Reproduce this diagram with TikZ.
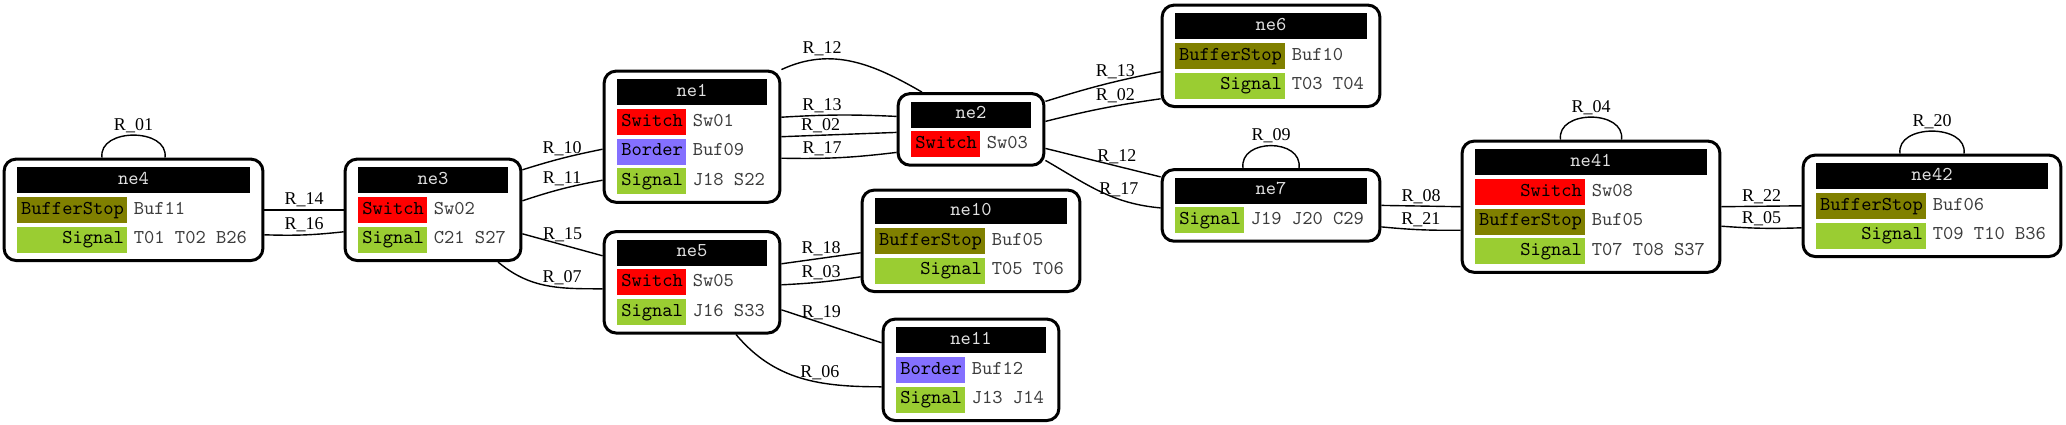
\documentclass[tikz,border=0pt]{standalone}
\usepackage{fontspec}
\setmainfont{Liberation Serif}
\usetikzlibrary{positioning,fit}
\definecolor{swred}{RGB}{255,0,0}
\definecolor{bdblue}{RGB}{132,112,255}
\definecolor{bsolive}{RGB}{128,128,0}
\definecolor{sggreen}{RGB}{154,205,50}
\definecolor{hdtext}{RGB}{225,225,225}
\definecolor{vltext}{RGB}{60,60,60}
\tikzset{
  cellfont/.style={font=\ttfamily\fontsize{9.8}{11}\selectfont, text height=5.8pt, text depth=1.6pt},
  elem/.style={draw, line width=1.5pt, rounded corners=6pt, inner xsep=6.25pt, inner ysep=3.75pt},
  head/.style={cellfont, fill=black, text=hdtext, minimum width=#1, minimum height=13pt, inner sep=0pt},
  kwide/.style={cellfont, fill=#1, text width=52pt, align=right, inner xsep=1.5pt, inner ysep=0pt, minimum height=13pt},
  knarrow/.style={cellfont, fill=#1, text width=31.5pt, align=right, inner xsep=1.5pt, inner ysep=0pt, minimum height=13pt},
  val/.style={cellfont, text=vltext, inner sep=0pt, minimum height=13pt},
  wire/.style={line width=0.7pt},
  rlbl/.style={font=\fontsize{9}{10}\selectfont, inner sep=1pt}
}
\begin{document}
\begin{tikzpicture}[x=0.5pt,y=-0.5pt]
\useasboundingbox (0,0) rectangle (2066,424);
% ne4
\node[head=116.5pt] (ne4h) at (133.5,180) {ne4};
\node[kwide=bsolive, below=1.5pt of ne4h.south west, anchor=north west] (ne4k1) {BufferStop};
\node[val, right=3pt of ne4k1] (ne4v1) {Buf11};
\node[kwide=sggreen, below=1.5pt of ne4k1.south west, anchor=north west] (ne4k2) {Signal};
\node[val, right=3pt of ne4k2] (ne4v2) {T01 T02 B26};
\node[elem, fit=(ne4h)(ne4k2)] (ne4) {};
% ne3
\node[head=75pt] (ne3h) at (433,180) {ne3};
\node[knarrow=swred, below=1.5pt of ne3h.south west, anchor=north west] (ne3k1) {Switch};
\node[val, right=3pt of ne3k1] (ne3v1) {Sw02};
\node[knarrow=sggreen, below=1.5pt of ne3k1.south west, anchor=north west] (ne3k2) {Signal};
\node[val, right=3pt of ne3k2] (ne3v2) {C21 S27};
\node[elem, fit=(ne3h)(ne3k2)] (ne3) {};
% ne1
\node[head=75pt] (ne1h) at (692,92) {ne1};
\node[knarrow=swred, below=1.5pt of ne1h.south west, anchor=north west] (ne1k1) {Switch};
\node[val, right=3pt of ne1k1] (ne1v1) {Sw01};
\node[knarrow=bdblue, below=1.5pt of ne1k1.south west, anchor=north west] (ne1k2) {Border};
\node[val, right=3pt of ne1k2] (ne1v2) {Buf09};
\node[knarrow=sggreen, below=1.5pt of ne1k2.south west, anchor=north west] (ne1k3) {Signal};
\node[val, right=3pt of ne1k3] (ne1v3) {J18 S22};
\node[elem, fit=(ne1h)(ne1k3)] (ne1) {};
% ne5
\node[head=75pt] (ne5h) at (692,252.5) {ne5};
\node[knarrow=swred, below=1.5pt of ne5h.south west, anchor=north west] (ne5k1) {Switch};
\node[val, right=3pt of ne5k1] (ne5v1) {Sw05};
\node[knarrow=sggreen, below=1.5pt of ne5k1.south west, anchor=north west] (ne5k2) {Signal};
\node[val, right=3pt of ne5k2] (ne5v2) {J16 S33};
\node[elem, fit=(ne5h)(ne5k2)] (ne5) {};
% ne2
\node[head=60pt] (ne2h) at (971,114.5) {ne2};
\node[knarrow=swred, below=1.5pt of ne2h.south west, anchor=north west] (ne2k1) {Switch};
\node[val, right=3pt of ne2k1] (ne2v1) {Sw03};
\node[elem, fit=(ne2h)(ne2k1)] (ne2) {};
% ne10
\node[head=96pt] (ne10h) at (971,211) {ne10};
\node[kwide=bsolive, below=1.5pt of ne10h.south west, anchor=north west] (ne10k1) {BufferStop};
\node[val, right=3pt of ne10k1] (ne10v1) {Buf05};
\node[kwide=sggreen, below=1.5pt of ne10k1.south west, anchor=north west] (ne10k2) {Signal};
\node[val, right=3pt of ne10k2] (ne10v2) {T05 T06};
\node[elem, fit=(ne10h)(ne10k2)] (ne10) {};
% ne11
\node[head=75pt] (ne11h) at (971,340) {ne11};
\node[knarrow=bdblue, below=1.5pt of ne11h.south west, anchor=north west] (ne11k1) {Border};
\node[val, right=3pt of ne11k1] (ne11v1) {Buf12};
\node[knarrow=sggreen, below=1.5pt of ne11k1.south west, anchor=north west] (ne11k2) {Signal};
\node[val, right=3pt of ne11k2] (ne11v2) {J13 J14};
\node[elem, fit=(ne11h)(ne11k2)] (ne11) {};
% ne6
\node[head=96pt] (ne6h) at (1271,26) {ne6};
\node[kwide=bsolive, below=1.5pt of ne6h.south west, anchor=north west] (ne6k1) {BufferStop};
\node[val, right=3pt of ne6k1] (ne6v1) {Buf10};
\node[kwide=sggreen, below=1.5pt of ne6k1.south west, anchor=north west] (ne6k2) {Signal};
\node[val, right=3pt of ne6k2] (ne6v2) {T03 T04};
\node[elem, fit=(ne6h)(ne6k2)] (ne6) {};
% ne7
\node[head=96pt] (ne7h) at (1271,190.5) {ne7};
\node[knarrow=sggreen, below=1.5pt of ne7h.south west, anchor=north west] (ne7k1) {Signal};
\node[val, right=3pt of ne7k1] (ne7v1) {J19 J20 C29};
\node[elem, fit=(ne7h)(ne7k1)] (ne7) {};
% ne41
\node[head=116pt] (ne41h) at (1591,162) {ne41};
\node[kwide=swred, below=1.5pt of ne41h.south west, anchor=north west] (ne41k1) {Switch};
\node[val, right=3pt of ne41k1] (ne41v1) {Sw08};
\node[kwide=bsolive, below=1.5pt of ne41k1.south west, anchor=north west] (ne41k2) {BufferStop};
\node[val, right=3pt of ne41k2] (ne41v2) {Buf05};
\node[kwide=sggreen, below=1.5pt of ne41k2.south west, anchor=north west] (ne41k3) {Signal};
\node[val, right=3pt of ne41k3] (ne41v3) {T07 T08 S37};
\node[elem, fit=(ne41h)(ne41k3)] (ne41) {};
% ne42
\node[head=116pt] (ne42h) at (1932,176) {ne42};
\node[kwide=bsolive, below=1.5pt of ne42h.south west, anchor=north west] (ne42k1) {BufferStop};
\node[val, right=3pt of ne42k1] (ne42v1) {Buf06};
\node[kwide=sggreen, below=1.5pt of ne42k1.south west, anchor=north west] (ne42k2) {Signal};
\node[val, right=3pt of ne42k2] (ne42v2) {T09 T10 B36};
\node[elem, fit=(ne42h)(ne42k2)] (ne42) {};
% self loops
\draw[wire] ([xshift=-15.75pt]ne4.north) .. controls +(-2pt,15pt) and +(2pt,15pt) .. node[rlbl, above] (l01) {R\_01} ([xshift=15.75pt]ne4.north);
\draw[wire] ([xshift=-14pt]ne7.north) .. controls +(-2pt,15pt) and +(2pt,15pt) .. node[rlbl, above] (l09) {R\_09} ([xshift=14pt]ne7.north);
\draw[wire] ([xshift=-15.25pt]ne41.north) .. controls +(-2pt,15pt) and +(2pt,15pt) .. node[rlbl, above] (l04) {R\_04} ([xshift=15.25pt]ne41.north);
\draw[wire] ([xshift=-16pt]ne42.north) .. controls +(-2pt,15pt) and +(2pt,15pt) .. node[rlbl, above] (l20) {R\_20} ([xshift=16pt]ne42.north);
% ne4 - ne3
\draw[wire] (ne4.east) -- node[rlbl, above] (l14) {R\_14} (ne3.west);
\draw[wire] ([yshift=-12.5pt]ne4.east) to[bend right=4] node[rlbl, above] (l16) {R\_16} ([yshift=-11pt]ne3.west);
% ne3 - ne1, ne5
\draw[wire] ([yshift=20pt]ne3.east) to[bend left=3] node[rlbl, above] (l10) {R\_10} ([yshift=-6.25pt]ne1.west);
\draw[wire] ([yshift=4.5pt]ne3.east) to[bend left=4] node[rlbl, above] (l11) {R\_11} ([yshift=-21.75pt]ne1.west);
\draw[wire] ([yshift=-12pt]ne3.east) -- node[rlbl, above] (l15) {R\_15} ([yshift=13.25pt]ne5.west);
\draw[wire] ([xshift=32.5pt]ne3.south) to[out=-40, in=180] node[rlbl, above, pos=0.65] (l07) {R\_07} ([yshift=-3.25pt]ne5.west);
% ne1 - ne2
\draw[wire] (ne1.north east) to[out=25, in=150] node[rlbl, above, pos=0.28] (l12a) {R\_12} ([xshift=-24.5pt]ne2.north);
\draw[wire] ([yshift=9.75pt]ne1.east) to[bend left=3] node[rlbl, above, pos=0.34] (l13a) {R\_13} ([yshift=6.5pt]ne2.west);
\draw[wire] (ne1.east) -- node[rlbl, above, pos=0.34] (l02a) {R\_02} ([yshift=-1.5pt]ne2.west);
\draw[wire] ([yshift=-10.75pt]ne1.east) to[bend right=4] node[rlbl, above, pos=0.34] (l17a) {R\_17} ([yshift=-11.5pt]ne2.west);
% ne2 - ne6, ne7
\draw[wire] ([yshift=14pt]ne2.east) to[bend left=3] node[rlbl, above, pos=0.62] (l13b) {R\_13} ([yshift=-8pt]ne6.west);
\draw[wire] ([yshift=4pt]ne2.east) to[bend left=3] node[rlbl, above, pos=0.62] (l02b) {R\_02} ([yshift=-21.5pt]ne6.west);
\draw[wire] ([yshift=-9.5pt]ne2.east) -- node[rlbl, above, pos=0.62] (l12b) {R\_12} ([yshift=14.25pt]ne7.west);
\draw[wire] ([yshift=-15.5pt]ne2.east) to[out=-30, in=175] node[rlbl, above, pos=0.67] (l17b) {R\_17} ([yshift=-1.25pt]ne7.west);
% ne5 - ne10, ne11
\draw[wire] ([yshift=9.25pt]ne5.east) -- node[rlbl, above] (l18) {R\_18} ([yshift=-6pt]ne10.west);
\draw[wire] ([yshift=-1.25pt]ne5.east) to[bend right=3] node[rlbl, above] (l03) {R\_03} ([yshift=-18pt]ne10.west);
\draw[wire] ([yshift=-13.75pt]ne5.east) -- node[rlbl, above, pos=0.4] (l19) {R\_19} ([yshift=13.5pt]ne11.west);
\draw[wire] ([xshift=22pt]ne5.south) to[out=-50, in=180] node[rlbl, above, pos=0.63] (l06) {R\_06} ([yshift=-8.5pt]ne11.west);
% ne7 - ne41 - ne42
\draw[wire] (ne7.east) -- node[rlbl, above] (l08) {R\_08} (ne41.west);
\draw[wire] ([yshift=-10.75pt]ne7.east) to[bend right=3] node[rlbl, above] (l21) {R\_21} ([yshift=-11.75pt]ne41.west);
\draw[wire] (ne41.east) -- node[rlbl, above] (l22) {R\_22} (ne42.west);
\draw[wire] ([yshift=-9.75pt]ne41.east) to[bend right=3] node[rlbl, above] (l05) {R\_05} ([yshift=-11pt]ne42.west);
\end{tikzpicture}
\end{document}
